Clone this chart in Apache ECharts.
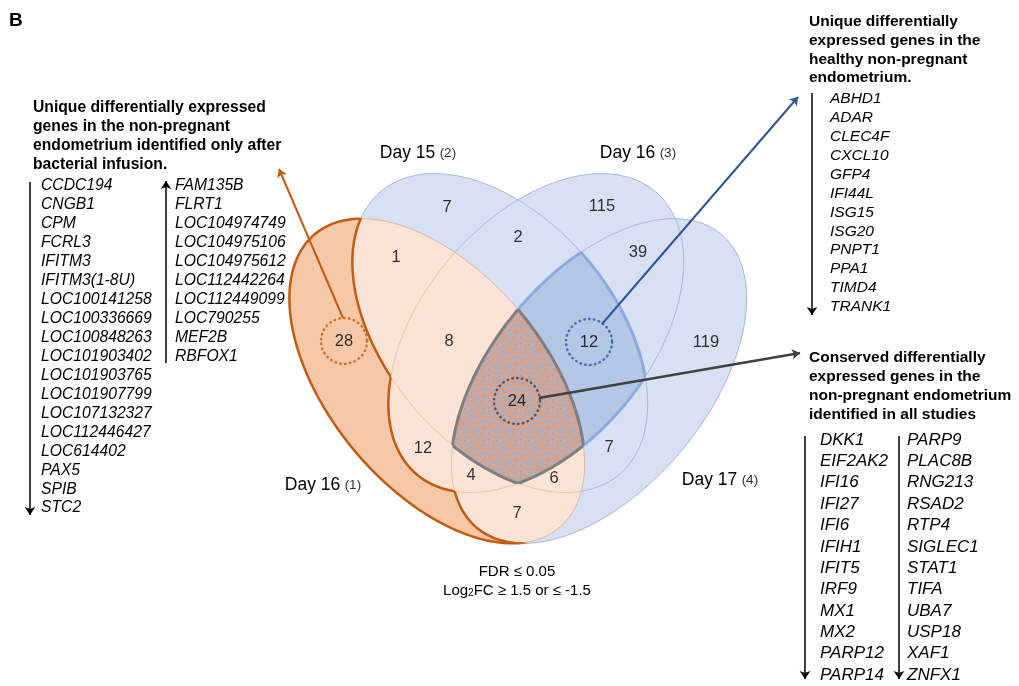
<!DOCTYPE html>
<html>
<head>
<meta charset="utf-8">
<title>Venn diagram</title>
<script src="https://cdn.jsdelivr.net/npm/echarts@6/dist/echarts.min.js"></script>
<style>
  html, body { margin: 0; padding: 0; background: #fff; }
  #chart { width: 1019px; height: 686px; }
</style>
</head>
<body>
<div id="chart"></div>
<script>
// ---- data ----
var setNames = ['Day 16', 'Day 15', 'Day 16', 'Day 17'];
var setTags = ['(1)', '(2)', '(3)', '(4)'];
var regionNames = ['1', '2', '3', '4', '1,2', '2,3', '3,4', '1,2,3', '2,3,4', '1,2,3,4', '1,3', '1,3,4', '1,2,4', '1,4', '2,4'];
var regionCounts = [28, 7, 115, 119, 1, 2, 39, 8, 12, 24, 12, 4, 6, 7, 7];

var infusedTitle = ['Unique differentially expressed', 'genes in the non-pregnant', 'endometrium identified only after', 'bacterial infusion.'];
var infusedDown = ['CCDC194', 'CNGB1', 'CPM', 'FCRL3', 'IFITM3', 'IFITM3(1-8U)', 'LOC100141258', 'LOC100336669',
  'LOC100848263', 'LOC101903402', 'LOC101903765', 'LOC101907799', 'LOC107132327', 'LOC112446427', 'LOC614402',
  'PAX5', 'SPIB', 'STC2'];
var infusedUp = ['FAM135B', 'FLRT1', 'LOC104974749', 'LOC104975106', 'LOC104975612', 'LOC112442264', 'LOC112449099',
  'LOC790255', 'MEF2B', 'RBFOX1'];

var healthyTitle = ['Unique differentially', 'expressed genes in the', 'healthy non-pregnant', 'endometrium.'];
var healthyDown = ['ABHD1', 'ADAR', 'CLEC4F', 'CXCL10', 'GFP4', 'IFI44L', 'ISG15', 'ISG20', 'PNPT1', 'PPA1', 'TIMD4', 'TRANK1'];

var conservedTitle = ['Conserved differentially', 'expressed genes in the', 'non-pregnant endometrium', 'identified in all studies'];
var conservedA = ['DKK1', 'EIF2AK2', 'IFI16', 'IFI27', 'IFI6', 'IFIH1', 'IFIT5', 'IRF9', 'MX1', 'MX2', 'PARP12', 'PARP14'];
var conservedB = ['PARP9', 'PLAC8B', 'RNG213', 'RSAD2', 'RTP4', 'SIGLEC1', 'STAT1', 'TIFA', 'UBA7', 'USP18', 'XAF1', 'ZNFX1'];

var thresholds = ['FDR \u2264 0.05', 'FC \u2265 1.5 or \u2264 -1.5'];

// ---- layout (plot space == page space) ----
var ellipseLayout = [
  { cx: 437, cy: 381, a: 191, b: 108, rot: 50.3 },
  { cx: 500, cy: 333, a: 185, b: 114, rot: 49.9 },
  { cx: 536, cy: 333, a: 185, b: 114, rot: 130.1 },
  { cx: 599, cy: 381, a: 191, b: 108, rot: 129.7 }
];
var regionLabelPos = [[344, 341], [447, 207], [602, 206], [706, 342], [396, 257], [518, 237], [638, 252],
  [449, 341], [589, 342], [517, 401], [423, 448], [471, 475], [554, 478], [517, 513], [609, 447]];
var setLabelPos = [[323, 485], [418, 153], [638, 153], [720, 480]];
var highlights = [
  { region: 0, color: '#C55A11' },
  { region: 8, color: '#2F5597' },
  { region: 9, color: '#404040' }
];
var callouts = [
  { from: [343, 318], to: [279, 169], color: '#C55A11', width: 2 },
  { from: [602, 324], to: [798, 97], color: '#2F5597', width: 2 },
  { from: [539, 398], to: [800, 353], color: '#404040', width: 2.5 },
  { from: [30, 182], to: [30, 515], color: '#000', width: 1.5 },
  { from: [166, 363], to: [166, 181], color: '#000', width: 1.5 },
  { from: [812, 93], to: [812, 315], color: '#000', width: 1.5 },
  { from: [805, 436], to: [805, 679], color: '#000', width: 1.5 },
  { from: [899, 436], to: [899, 679], color: '#000', width: 1.5 }
];

var FONT = '"Liberation Sans", Arial, sans-serif';
var BLUE = '#D7E1F3', BLUE_LINE = '#A9B8D8', BLUE_DARK = '#B4C7E7', BLUE_EDGE = '#8FAADC';
var PEACH = '#FBE4D5', ORANGE_LIGHT = '#F6C8A7', ORANGE = '#C55A11', TAN_LINE = '#EBC2A6', GRAY = '#7F7F7F';

// stippled texture for the region shared by all four sets (fixed hash, no randomness)
var tex = document.createElement('canvas');
tex.width = 32; tex.height = 32;
var tg = tex.getContext('2d');
var speckColor = ['#C6A090', '#E09E7A', '#A7B2CE', '#D9A78F', '#B9A9B4'];
for (var ty = 0; ty < 32; ty++) {
  for (var tx = 0; tx < 32; tx++) {
    var h = Math.imul(tx + 1, 0x27d4eb2d) ^ Math.imul(ty + 7, 0x165667b1);
    h = Math.imul(h ^ (h >>> 15), 0x85ebca6b);
    h ^= h >>> 13;
    h = Math.imul(h, 0xc2b2ae35);
    h ^= h >>> 16;
    tg.fillStyle = speckColor[(h >>> 0) % 5];
    tg.fillRect(tx, ty, 1, 1);
  }
}
var speckFill = { image: tex, repeat: 'repeat' };

function ellipsePoints(e, api) {
  var pts = [], r = e.rot * Math.PI / 180, c = Math.cos(r), s = Math.sin(r);
  for (var k = 0; k < 240; k++) {
    var t = 2 * Math.PI * k / 240;
    var x = e.a * Math.cos(t), y = e.b * Math.sin(t);
    pts.push(api.coord([e.cx + x * c - y * s, e.cy + x * s + y * c]));
  }
  return pts;
}
function ring(pts) {
  return 'M' + pts.map(function (p) { return p[0].toFixed(2) + ' ' + p[1].toFixed(2); }).join('L') + 'Z';
}
function signedArea(pts) {
  var s = 0;
  for (var i = 0; i < pts.length; i++) {
    var p = pts[i], q = pts[(i + 1) % pts.length];
    s += p[0] * q[1] - q[0] * p[1];
  }
  return s;
}
// big rectangle with the ellipse cut out (non-zero rule -> hole)
function holeRing(pts, w, h) {
  var p = signedArea(pts) > 0 ? pts.slice().reverse() : pts;
  return 'M-20 -20L' + (w + 20) + ' -20L' + (w + 20) + ' ' + (h + 20) + 'L-20 ' + (h + 20) + 'Z' + ring(p);
}

function renderVenn(params, api) {
  var P = ellipseLayout.map(function (e) { return ellipsePoints(e, api); });
  var D = P.map(ring);
  var W = api.getWidth(), H = api.getHeight();
  var OUT = P.map(function (pts) { return holeRing(pts, W, H); });
  var inside = function (i) { return { type: 'path', shape: { pathData: D[i] } }; };
  var outside = function (i) { return { type: 'path', shape: { pathData: OUT[i] } }; };
  var shape = function (i, style) {
    return { type: 'path', shape: { pathData: D[i] }, style: Object.assign({ fill: 'none' }, style) };
  };
  var nest = function (clips, child) {
    var node = child;
    for (var k = clips.length - 1; k >= 0; k--) {
      node = { type: 'group', clipPath: clips[k], children: [node] };
    }
    return node;
  };
  var others = function (list, i) { return list.filter(function (j) { return j !== i; }); };
  var blues = [1, 2, 3], all = [0, 1, 2, 3];
  var kids = [];

  blues.forEach(function (i) { kids.push(shape(i, { fill: BLUE })); });
  blues.forEach(function (i) { kids.push(shape(i, { stroke: BLUE_LINE, lineWidth: 1 })); });
  // 2 & 3 & 4
  kids.push(nest([inside(1), inside(2)], shape(3, { fill: BLUE_DARK })));
  blues.forEach(function (i) {
    kids.push(nest(others(blues, i).map(inside), shape(i, { stroke: BLUE_EDGE, lineWidth: 3 })));
  });
  // set 1
  kids.push(shape(0, { fill: ORANGE_LIGHT }));
  blues.forEach(function (i) { kids.push(nest([inside(0)], shape(i, { fill: PEACH }))); });
  blues.forEach(function (i) { kids.push(nest([inside(0)], shape(i, { stroke: TAN_LINE, lineWidth: 1 }))); });
  kids.push(shape(0, { stroke: '#D9B9A6', lineWidth: 1 }));
  // all four
  kids.push(nest([inside(0), inside(1), inside(2)], shape(3, { fill: speckFill })));
  all.forEach(function (i) {
    kids.push(nest(others(all, i).map(inside), shape(i, { stroke: GRAY, lineWidth: 3 })));
  });
  // set 1 only
  kids.push(nest(blues.map(outside), shape(0, { stroke: ORANGE, lineWidth: 2.5 })));
  blues.forEach(function (i) {
    var clips = [inside(0)].concat(others(blues, i).map(outside));
    kids.push(nest(clips, shape(i, { stroke: ORANGE, lineWidth: 2.5 })));
  });
  return { type: 'group', children: kids };
}

function txt(x, y, text, o) {
  return {
    type: 'text', x: x, y: y, silent: true,
    style: Object.assign({
      text: text, fill: '#000', fontFamily: FONT, fontSize: 15.5,
      align: 'left', verticalAlign: 'top', textAlign: 'left', textVerticalAlign: 'top'
    }, o || {})
  };
}
var bold = { fontWeight: 'bold' };
var ital = { fontStyle: 'italic' };

var texts = [
  txt(9, 11, 'B', { fontWeight: 'bold', fontSize: 19 }),
  txt(33, 98.5, infusedTitle.join('\n'), Object.assign({ lineHeight: 18.8, fontSize: 15.7 }, bold)),
  txt(41, 176.5, infusedDown.join('\n'), Object.assign({ lineHeight: 18.95, fontSize: 15.7 }, ital)),
  txt(175, 176.5, infusedUp.join('\n'), Object.assign({ lineHeight: 18.95, fontSize: 15.7 }, ital)),
  txt(809, 12.6, healthyTitle.join('\n'), Object.assign({ lineHeight: 18.7 }, bold)),
  txt(830, 89.5, healthyDown.join('\n'), Object.assign({ lineHeight: 18.9 }, ital)),
  txt(809, 348.5, conservedTitle.join('\n'), Object.assign({ lineHeight: 19 }, bold)),
  txt(820, 429.3, conservedA.join('\n'), Object.assign({ lineHeight: 21.36, fontSize: 17 }, ital)),
  txt(907, 429.3, conservedB.join('\n'), Object.assign({ lineHeight: 21.36, fontSize: 17 }, ital)),
  txt(517, 564, thresholds[0], { fontSize: 15, align: 'center', textAlign: 'center' }),
  txt(517, 583, '{n|Log}{s|2}{n|' + thresholds[1] + '}', {
    fontSize: 15, align: 'center', textAlign: 'center',
    rich: { n: { fontSize: 15, fontFamily: FONT, fill: '#000' }, s: { fontSize: 10, fontFamily: FONT, fill: '#000', verticalAlign: 'bottom' } }
  })
];
setNames.forEach(function (name, i) {
  texts.push(txt(setLabelPos[i][0], setLabelPos[i][1], '{a|' + name + '} {b|' + setTags[i] + '}', {
    align: 'center', textAlign: 'center', verticalAlign: 'middle', textVerticalAlign: 'middle',
    rich: {
      a: { fontSize: 17.5, fontFamily: FONT, fill: '#000' },
      b: { fontSize: 13.5, fontFamily: FONT, fill: '#333' }
    }
  }));
});

var chart = echarts.init(document.getElementById('chart'));
chart.setOption({
  animation: false,
  backgroundColor: '#fff',
  grid: { left: 0, right: 0, top: 0, bottom: 0 },
  xAxis: { type: 'value', min: 0, max: 1019, show: false },
  yAxis: { type: 'value', min: 0, max: 686, inverse: true, show: false },
  graphic: { elements: texts },
  series: [
    {
      type: 'custom', z: 1, silent: true, clip: false,
      data: [[0, 0]],
      renderItem: renderVenn
    },
    {
      type: 'scatter', z: 3, silent: true,
      symbol: 'circle', symbolSize: 46,
      data: highlights.map(function (h) {
        return {
          value: regionLabelPos[h.region],
          itemStyle: { color: 'rgba(0,0,0,0)', borderColor: h.color, borderWidth: 2.5, borderType: [0.5, 4.4], borderCap: 'round' }
        };
      })
    },
    {
      type: 'scatter', z: 4, silent: true,
      symbolSize: 1, itemStyle: { color: 'rgba(0,0,0,0)' },
      data: regionCounts.map(function (v, i) {
        return { name: regionNames[i], value: [regionLabelPos[i][0], regionLabelPos[i][1], v] };
      }),
      label: {
        show: true, position: 'inside', color: '#000', fontSize: 16.5, fontFamily: FONT,
        formatter: function (p) { return p.value[2]; }
      }
    },
    {
      type: 'lines', coordinateSystem: 'cartesian2d', z: 5, silent: true,
      symbol: ['none', 'arrow'], symbolSize: 8,
      data: callouts.map(function (c) {
        return { coords: [c.from, c.to], lineStyle: { color: c.color, width: c.width, opacity: 1 } };
      })
    }
  ]
});
</script>
</body>
</html>
